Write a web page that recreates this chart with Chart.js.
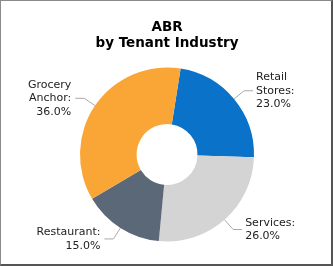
<!DOCTYPE html>
<html lang="en">
<head>
    <meta charset="UTF-8">
    <title>ABR by Tenant Industry</title>
    <script src="https://cdn.jsdelivr.net/npm/chart.js@4"></script>
    <style>
        html, body { margin: 0; padding: 0; background: #fff; }
        .frame {
            position: absolute; left: 0; top: 0;
            width: 333px; height: 266px;
            box-sizing: border-box;
            border-top: 1px solid #8a8a8a;
            border-left: 1px solid #8a8a8a;
            border-right: 2px solid #555;
            border-bottom: 2px solid #555;
        }
        canvas { display: block; }
    </style>
</head>
<body>
    <div class="frame">
        <canvas id="abrChart" width="330" height="263"></canvas>
    </div>

    <script>
        // data
        const categories = ['Retail Stores', 'Services', 'Restaurant', 'Grocery Anchor'];
        const abrShares = [23.0, 26.0, 15.0, 36.0];
        // how each category name wraps in its outside label
        const labelLines = [['Retail', 'Stores:'], ['Services:'], ['Restaurant:'], ['Grocery', 'Anchor:']];
        const titleLines = ['ABR', 'by Tenant Industry'];

        const sliceColors = ['#0a72c9', '#d4d4d4', '#5b6878', '#f9a637'];
        const fontFamily = '"DejaVu Sans", Verdana, sans-serif';

        // draws the outside labels with their leader lines
        const outsideLabels = {
            id: 'outsideLabels',
            afterDatasetsDraw(chart) {
                const ctx = chart.ctx;
                const meta = chart.getDatasetMeta(0);
                ctx.save();
                ctx.font = '11px ' + fontFamily;
                ctx.textBaseline = 'middle';
                meta.data.forEach((arc, i) => {
                    const p = arc.getProps(['x', 'y', 'startAngle', 'endAngle', 'outerRadius'], true);
                    const mid = (p.startAngle + p.endAngle) / 2;
                    const cos = Math.cos(mid), sin = Math.sin(mid);
                    const x0 = p.x + cos * p.outerRadius;
                    const y0 = p.y + sin * p.outerRadius;
                    const x1 = p.x + cos * (p.outerRadius + 13);
                    const y1 = p.y + sin * (p.outerRadius + 13);
                    const right = cos >= 0;
                    const x2 = x1 + (right ? 9 : -9);

                    ctx.strokeStyle = '#a9a9a9';
                    ctx.lineWidth = 1;
                    ctx.beginPath();
                    ctx.moveTo(x0, y0);
                    ctx.lineTo(x1, y1);
                    ctx.lineTo(x2, y1);
                    ctx.stroke();

                    const lines = labelLines[i].concat([abrShares[i].toFixed(1) + '%']);
                    const lh = 13.5;
                    const top = y1 - (lines.length - 1) * lh / 2;
                    ctx.fillStyle = '#222';
                    ctx.textAlign = right ? 'left' : 'right';
                    const tx = x2 + (right ? 3 : -4);
                    lines.forEach((t, k) => ctx.fillText(t, tx, top + k * lh));
                });
                ctx.restore();
            }
        };

        new Chart(document.getElementById('abrChart'), {
            type: 'doughnut',
            data: {
                labels: categories,
                datasets: [{
                    data: abrShares,
                    backgroundColor: sliceColors,
                    borderWidth: 0
                }]
            },
            options: {
                responsive: false,
                devicePixelRatio: 1,
                animation: false,
                rotation: 9,
                cutout: '35%',
                layout: { padding: { left: 2, right: 0, top: 0, bottom: 22.5 } },
                plugins: {
                    legend: { display: false },
                    tooltip: { enabled: false },
                    title: {
                        display: true,
                        text: titleLines,
                        color: '#000',
                        font: { family: fontFamily, size: 13.5, weight: 'bold', lineHeight: 1.2 },
                        padding: { top: 18.5, bottom: 15.6 }
                    }
                }
            },
            plugins: [outsideLabels]
        });
    </script>
</body>
</html>
